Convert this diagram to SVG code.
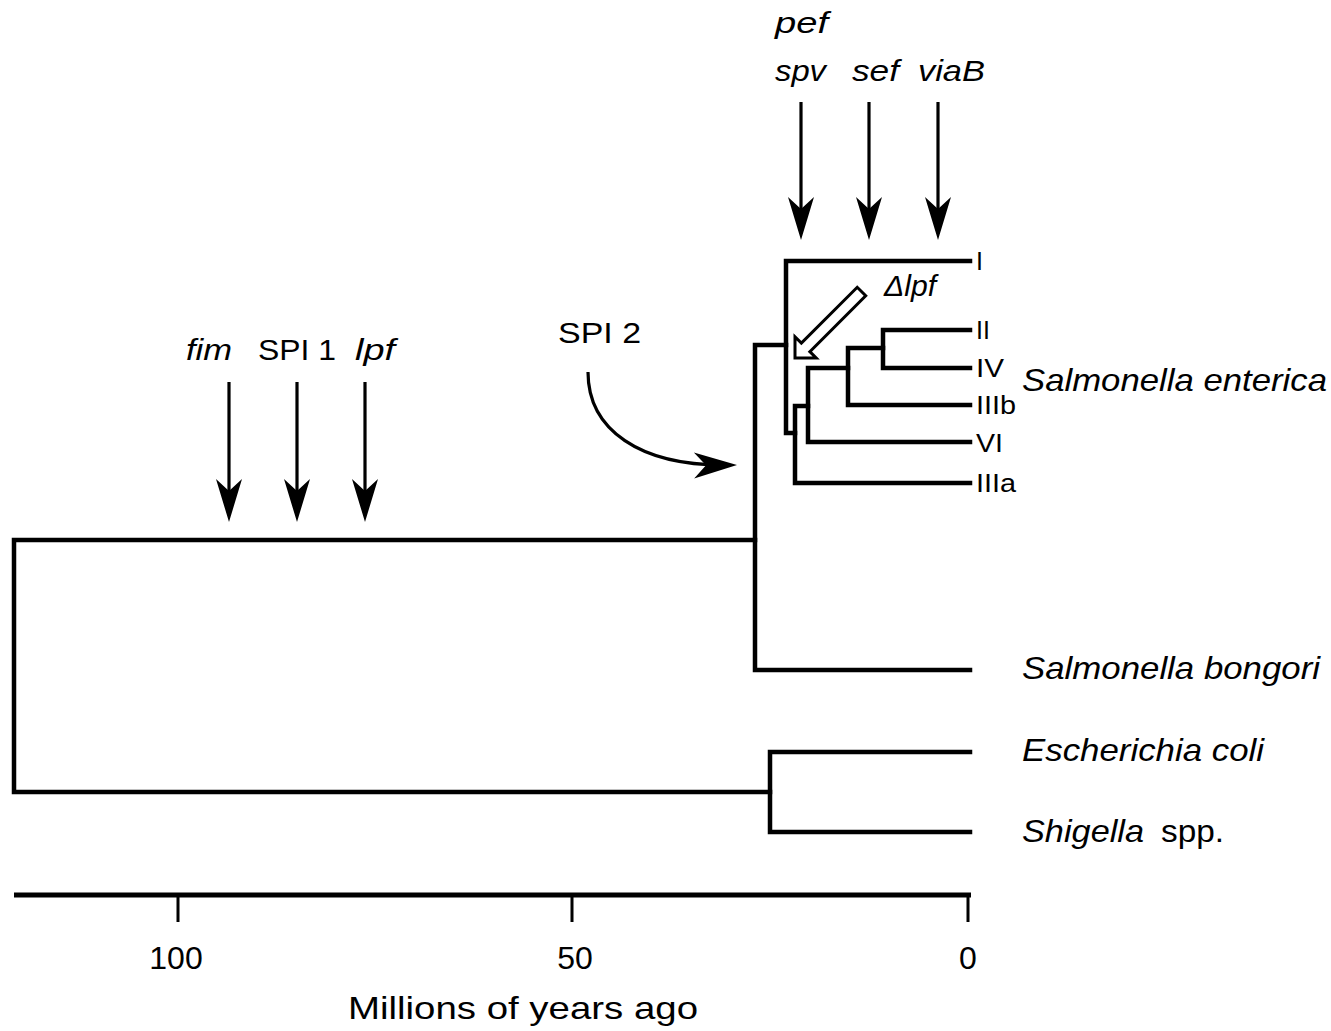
<svg xmlns="http://www.w3.org/2000/svg" width="1331" height="1031" viewBox="0 0 1331 1031">
  <style>
    .br { fill: none; stroke: #000; stroke-width: 4.5; stroke-linejoin: miter; stroke-linecap: square; }
    .ar { fill: none; stroke: #000; stroke-width: 3.2; }
    .t { font-family: "Liberation Sans", Arial, sans-serif; fill: #000; }
    .it { font-style: italic; }
    .sp { font-size: 32px; }
    .tl { font-size: 25px; }
    .gl { font-size: 30px; }
    .ax { font-size: 32px; text-anchor: middle; }
  </style>
  <defs>
    <marker id="head" viewBox="-44 -14 46 28" refX="-10" refY="0" markerWidth="46" markerHeight="28" markerUnits="userSpaceOnUse" orient="auto">
      <path d="M0,0 L-43,-13 L-31,0 L-43,13 Z" fill="#000"/>
    </marker>
  </defs>
  <rect width="1331" height="1031" fill="#fff"/>

  <g id="connectors">
    <g id="tree-branches">
      <path class="br" d="M755,540 H14 V792 H770"/>
      <path class="br" d="M970,670 H755 V345 H786"/>
      <path class="br" d="M970,261 H786 V433 H795"/>
      <path class="br" d="M970,483 H795 V406 H808"/>
      <path class="br" d="M970,442 H808 V368 H848"/>
      <path class="br" d="M970,405 H848 V348 H883"/>
      <path class="br" d="M970,330 H883 V368 H970"/>
      <path class="br" d="M970,752 H770 V832 H970"/>
    </g>
    <g id="event-arrows">
      <line class="ar" x1="801" y1="102" x2="801" y2="230" marker-end="url(#head)"/>
      <line class="ar" x1="869" y1="102" x2="869" y2="230" marker-end="url(#head)"/>
      <line class="ar" x1="938" y1="102" x2="938" y2="230" marker-end="url(#head)"/>
      <line class="ar" x1="229" y1="382" x2="229" y2="512" marker-end="url(#head)"/>
      <line class="ar" x1="297" y1="382" x2="297" y2="512" marker-end="url(#head)"/>
      <line class="ar" x1="365" y1="382" x2="365" y2="512" marker-end="url(#head)"/>
      <path class="ar" d="M588,372 C588,430 640,466 727,465" marker-end="url(#head)"/>
      <polygon transform="translate(795,358) rotate(135)" points="0,0 -15,-15 -15,-6 -94,-6 -94,6 -15,6 -15,15" fill="#fff" stroke="#000" stroke-width="3" stroke-linejoin="miter"/>
    </g>
  </g>

  <g id="node-I"><text class="t tl" x="976" y="270">I</text></g>
  <g id="node-II"><text class="t tl" x="976" y="339">II</text></g>
  <g id="node-IV"><text class="t tl" x="976" y="377" textLength="28" lengthAdjust="spacingAndGlyphs">IV</text></g>
  <g id="node-IIIb"><text class="t tl" x="976" y="414" textLength="40" lengthAdjust="spacingAndGlyphs">IIIb</text></g>
  <g id="node-VI"><text class="t tl" x="976" y="452" textLength="27" lengthAdjust="spacingAndGlyphs">VI</text></g>
  <g id="node-IIIa"><text class="t tl" x="976" y="492" textLength="40" lengthAdjust="spacingAndGlyphs">IIIa</text></g>

  <g id="node-s-enterica"><text class="t sp it" x="1022" y="391" textLength="305" lengthAdjust="spacingAndGlyphs">Salmonella enterica</text></g>
  <g id="node-s-bongori"><text class="t sp it" x="1022" y="679" textLength="298" lengthAdjust="spacingAndGlyphs">Salmonella bongori</text></g>
  <g id="node-e-coli"><text class="t sp it" x="1022" y="761" textLength="242" lengthAdjust="spacingAndGlyphs">Escherichia coli</text></g>
  <g id="node-shigella">
    <text class="t sp it" x="1022" y="842" textLength="122" lengthAdjust="spacingAndGlyphs">Shigella</text>
    <text class="t sp" x="1161" y="842" textLength="63" lengthAdjust="spacingAndGlyphs">spp.</text>
  </g>

  <g id="label-pef"><text class="t gl it" x="775" y="33" textLength="53" lengthAdjust="spacingAndGlyphs">pef</text></g>
  <g id="label-spv"><text class="t gl it" x="775" y="81" textLength="51" lengthAdjust="spacingAndGlyphs">spv</text></g>
  <g id="label-sef"><text class="t gl it" x="852" y="81" textLength="47" lengthAdjust="spacingAndGlyphs">sef</text></g>
  <g id="label-viaB"><text class="t gl it" x="918" y="81" textLength="67" lengthAdjust="spacingAndGlyphs">viaB</text></g>
  <g id="label-fim"><text class="t gl it" x="186" y="360" textLength="46" lengthAdjust="spacingAndGlyphs">fim</text></g>
  <g id="label-spi1"><text class="t gl" x="258" y="360" textLength="78" lengthAdjust="spacingAndGlyphs">SPI 1</text></g>
  <g id="label-lpf"><text class="t gl it" x="355" y="360" textLength="40" lengthAdjust="spacingAndGlyphs">lpf</text></g>
  <g id="label-spi2"><text class="t gl" x="558" y="343" textLength="83" lengthAdjust="spacingAndGlyphs">SPI 2</text></g>
  <g id="label-dlpf"><text class="t gl it" x="884" y="296" textLength="52" lengthAdjust="spacingAndGlyphs">Δlpf</text></g>

  <g id="axis">
    <path d="M14,895 H971" fill="none" stroke="#000" stroke-width="5"/>
    <path d="M178,895 V922 M572,895 V922 M968,895 V922" fill="none" stroke="#000" stroke-width="3"/>
    <text class="t ax" x="176" y="969">100</text>
    <text class="t ax" x="575" y="969">50</text>
    <text class="t ax" x="968" y="969">0</text>
    <text class="t sp" x="348" y="1019" textLength="350" lengthAdjust="spacingAndGlyphs">Millions of years ago</text>
  </g>
</svg>
